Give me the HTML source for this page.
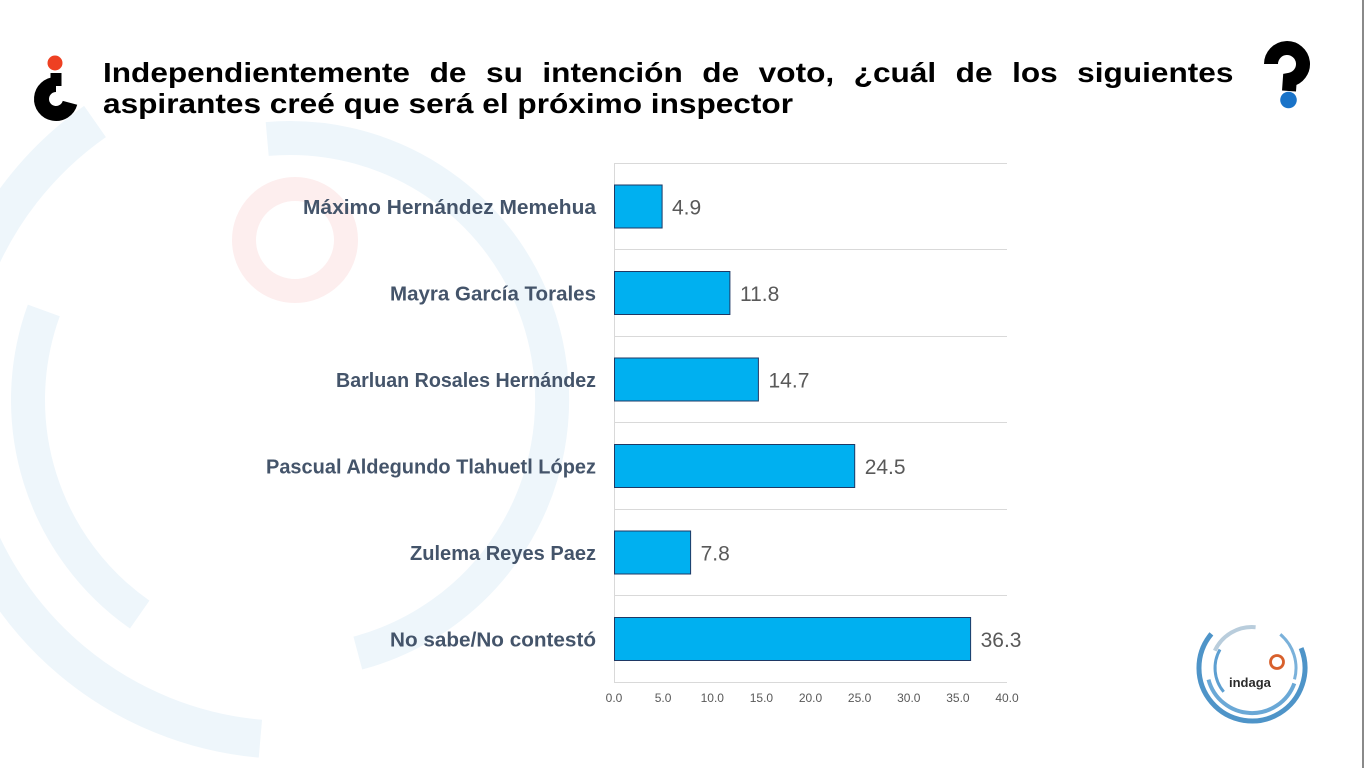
<!DOCTYPE html>
<html>
<head>
<meta charset="utf-8">
<style>
  html, body { margin:0; padding:0; background:#ffffff; }
  body { width:1366px; height:768px; overflow:hidden; }
  svg { display:block; }
  .t { font-family:"Liberation Sans", Arial, sans-serif; font-weight:bold; font-size:28px; fill:#000; }
  .cat { font-family:"Liberation Sans", Arial, sans-serif; font-weight:bold; font-size:20px; fill:#44546a; }
  .val { font-family:"Liberation Sans", Arial, sans-serif; font-size:21px; fill:#595959; }
  .tick { font-family:"Liberation Sans", Arial, sans-serif; font-size:12px; fill:#595959; text-anchor:middle; }
</style>
</head>
<body>
<svg width="1366" height="768" viewBox="0 0 1366 768" xmlns="http://www.w3.org/2000/svg">
  <rect x="0" y="0" width="1366" height="768" fill="#ffffff"/>

  <!-- faint background decoration -->
  <g fill="none" stroke="#eef6fb">
    <path d="M267.2,139.0 A262,262 0 0 1 357.8,653.1" stroke-width="34"/>
    <path d="M139.7,614.6 A262,262 0 0 1 43.8,310.4" stroke-width="34"/>
    <path d="M260.4,738.7 A340,340 0 0 1 95.0,121.5" stroke-width="38"/>
  </g>
  <circle cx="295" cy="240" r="51" fill="none" stroke="#fdeeee" stroke-width="24"/>

  <!-- right edge line -->
  <rect x="1362" y="0" width="2" height="768" fill="#8a8a8a"/>

  <!-- left "¿" icon -->
  <circle cx="55" cy="63" r="7.5" fill="#ee4022"/>
  <rect x="50.5" y="73" width="11" height="13" fill="#000"/>
  <path d="M56,84.5 A14.5,14.5 0 1 0 70.0,102.8" fill="none" stroke="#000" stroke-width="15"/>

  <!-- right "?" icon -->
  <path d="M1271,64 A16,16 0 1 1 1289.8,79.8 L1289,91" fill="none" stroke="#000" stroke-width="14"/>
  <circle cx="1288.5" cy="100" r="8.3" fill="#1a73c8"/>

  <!-- title -->
  <text class="t" x="103" y="82" textLength="307" lengthAdjust="spacingAndGlyphs">Independientemente</text>
  <text class="t" x="429.6" y="82" textLength="36.9" lengthAdjust="spacingAndGlyphs">de</text>
  <text class="t" x="486" y="82" textLength="36.9" lengthAdjust="spacingAndGlyphs">su</text>
  <text class="t" x="542.4" y="82" textLength="140.4" lengthAdjust="spacingAndGlyphs">intención</text>
  <text class="t" x="702.3" y="82" textLength="36.9" lengthAdjust="spacingAndGlyphs">de</text>
  <text class="t" x="758.7" y="82" textLength="75.5" lengthAdjust="spacingAndGlyphs">voto,</text>
  <text class="t" x="853.7" y="82" textLength="82.5" lengthAdjust="spacingAndGlyphs">¿cuál</text>
  <text class="t" x="955.7" y="82" textLength="36.9" lengthAdjust="spacingAndGlyphs">de</text>
  <text class="t" x="1012.1" y="82" textLength="45.6" lengthAdjust="spacingAndGlyphs">los</text>
  <text class="t" x="1077.2" y="82" textLength="156.2" lengthAdjust="spacingAndGlyphs">siguientes</text>
  <text class="t" x="103" y="113" textLength="690" lengthAdjust="spacingAndGlyphs">aspirantes creé que será el próximo inspector</text>

  <!-- gridlines -->
  <g stroke="#d9d9d9" stroke-width="1">
    <line x1="614" y1="163.5" x2="1007" y2="163.5"/>
    <line x1="614" y1="249.5" x2="1007" y2="249.5"/>
    <line x1="614" y1="336.5" x2="1007" y2="336.5"/>
    <line x1="614" y1="422.5" x2="1007" y2="422.5"/>
    <line x1="614" y1="509.5" x2="1007" y2="509.5"/>
    <line x1="614" y1="595.5" x2="1007" y2="595.5"/>
    <line x1="614" y1="682.5" x2="1007" y2="682.5"/>
    <line x1="614.5" y1="163" x2="614.5" y2="683"/>
  </g>

  <!-- bars -->
  <g fill="#00b0f0" stroke="#1f3864" stroke-width="1">
    <rect x="614.5" y="185" width="47.6" height="43"/>
    <rect x="614.5" y="271.5" width="115.4" height="43"/>
    <rect x="614.5" y="358" width="143.9" height="43"/>
    <rect x="614.5" y="444.5" width="240.2" height="43"/>
    <rect x="614.5" y="531" width="76.1" height="43"/>
    <rect x="614.5" y="617.5" width="356.1" height="43"/>
  </g>

  <!-- value labels -->
  <text class="val" x="672" y="214.5">4.9</text>
  <text class="val" x="740" y="301">11.8</text>
  <text class="val" x="768.5" y="387.5">14.7</text>
  <text class="val" x="864.7" y="474">24.5</text>
  <text class="val" x="700.6" y="560.5">7.8</text>
  <text class="val" x="980.6" y="647">36.3</text>

  <!-- category labels -->
  <text class="cat" x="303" y="213.75" textLength="293" lengthAdjust="spacingAndGlyphs">Máximo Hernández Memehua</text>
  <text class="cat" x="390" y="300.25" textLength="206" lengthAdjust="spacingAndGlyphs">Mayra García Torales</text>
  <text class="cat" x="336" y="386.75" textLength="260" lengthAdjust="spacingAndGlyphs">Barluan Rosales Hernández</text>
  <text class="cat" x="266" y="473.25" textLength="330" lengthAdjust="spacingAndGlyphs">Pascual Aldegundo Tlahuetl López</text>
  <text class="cat" x="410" y="559.75" textLength="186" lengthAdjust="spacingAndGlyphs">Zulema Reyes Paez</text>
  <text class="cat" x="390" y="646.25" textLength="206" lengthAdjust="spacingAndGlyphs">No sabe/No contestó</text>

  <!-- x-axis tick labels -->
  <text class="tick" x="614" y="702">0.0</text>
  <text class="tick" x="663.1" y="702">5.0</text>
  <text class="tick" x="712.3" y="702">10.0</text>
  <text class="tick" x="761.4" y="702">15.0</text>
  <text class="tick" x="810.5" y="702">20.0</text>
  <text class="tick" x="859.6" y="702">25.0</text>
  <text class="tick" x="908.8" y="702">30.0</text>
  <text class="tick" x="957.9" y="702">35.0</text>
  <text class="tick" x="1007" y="702">40.0</text>

  <!-- indaga logo -->
  <g fill="none">
    <path d="M1301.1,648.1 A53,53 0 1 1 1211.4,633.9" stroke="#4e94c8" stroke-width="5"/>
    <path d="M1294.3,683.4 A45,45 0 0 1 1208.5,679.6" stroke="#6aa8d6" stroke-width="4"/>
    <path d="M1214.8,650.7 A41,41 0 0 1 1255.6,627.2" stroke="#b9cddc" stroke-width="4"/>
    <path d="M1280.3,634.3 A44,44 0 0 1 1294.5,679.4" stroke="#7ab1da" stroke-width="3"/>
    <path d="M1223.7,691.8 A37,37 0 0 1 1220.0,649.5" stroke="#5d9fd1" stroke-width="3"/>
    <circle cx="1277" cy="662" r="6.5" stroke="#d8602c" stroke-width="2.8"/>
  </g>
  <text x="1229" y="687" font-family="Liberation Sans, Arial, sans-serif" font-weight="bold" font-size="13" fill="#2b2b2b">indaga</text>
</svg>
</body>
</html>
